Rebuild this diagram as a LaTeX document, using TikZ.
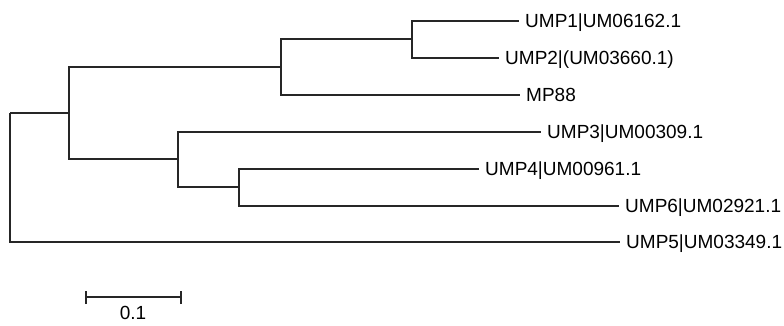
\documentclass[tikz,border=0pt]{standalone}
\usepackage{fontspec}
\setmainfont{Liberation Sans}
\begin{document}
\begin{tikzpicture}[x=1pt,y=-1pt,
  branch/.style={draw=black!85,line width=1.2pt},
  leaf/.style={anchor=west,inner xsep=6pt,inner ysep=0pt,
    text height=17pt,text depth=3.4pt,
    font=\fontsize{19}{22}\selectfont,text=black}]
\useasboundingbox (0,0) rectangle (784,325);
% internal nodes of the tree
\coordinate (root) at (10,113);
\coordinate (nA) at (69,113);
\coordinate (nB) at (281,67);
\coordinate (nC) at (412,39);
\coordinate (nD) at (178,159);
\coordinate (nE) at (239,187);
% leaves
\node[leaf] (l1) at (519,21) {UMP1|UM06162.1};
\node[leaf] (l2) at (499,58) {UMP2|(UM03660.1)};
\node[leaf] (l3) at (520,95) {MP88};
\node[leaf] (l4) at (541,132) {UMP3|UM00309.1};
\node[leaf] (l5) at (479,169) {UMP4|UM00961.1};
\node[leaf] (l6) at (619,206) {UMP6|UM02921.1};
\node[leaf] (l7) at (620,242) {UMP5|UM03349.1};
% branches
\draw[branch] (nC) |- (l1.west);
\draw[branch] (nC) |- (l2.west);
\draw[branch] (nB) |- (nC);
\draw[branch] (nB) |- (l3.west);
\draw[branch] (nE) |- (l5.west);
\draw[branch] (nE) |- (l6.west);
\draw[branch] (nD) |- (l4.west);
\draw[branch] (nD) |- (nE);
\draw[branch] (nA) |- (nB);
\draw[branch] (nA) |- (nD);
\draw[branch] (root) -- (nA);
\draw[branch] (root) |- (l7.west);
% scale bar
\coordinate (s1) at (86,297);
\coordinate (s2) at (181,297);
\draw[branch] (s1) -- (s2);
\draw[branch] ([yshift=-7pt]s1) -- ([yshift=6pt]s1);
\draw[branch] ([yshift=-7pt]s2) -- ([yshift=6pt]s2);
\node[anchor=base,inner sep=0pt,font=\fontsize{19}{22}\selectfont] (sl) at (133,319) {0.1};
\end{tikzpicture}
\end{document}
